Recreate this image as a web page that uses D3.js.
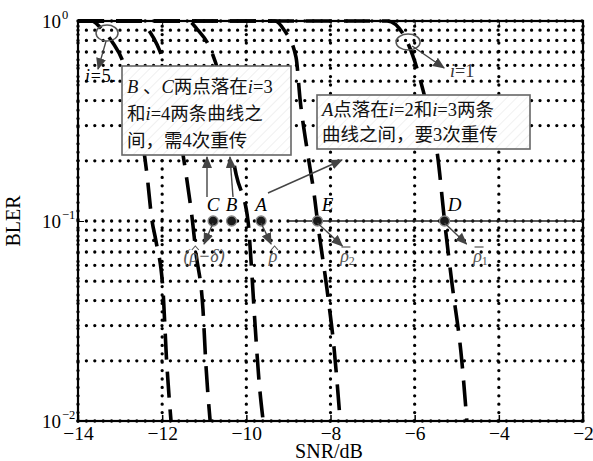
<!DOCTYPE html>
<html>
<head>
<meta charset="utf-8">
<script src="https://cdn.jsdelivr.net/npm/d3@7"></script>
<style>
  body { margin: 0; background: #fff; }
  svg, svg text { font-family: "Liberation Serif", "Noto Sans CJK SC", serif; }
</style>
</head>
<body>
<div id="chart"></div>
<script>
// data: [SNR(dB), BLER]
var curve1 = [[-14,1],[-6.65,1],[-6.23,0.83],[-5.8,0.45],[-5.44,0.2],[-5.29,0.1],[-5.12,0.05],[-4.88,0.02],[-4.76,0.01]];
var curve2 = [[-14,1],[-9.32,1],[-9.1,0.9],[-8.82,0.66],[-8.72,0.4],[-8.56,0.23],[-8.37,0.127],[-8.31,0.1],[-8.08,0.045],[-7.91,0.0225],[-7.77,0.01]];
var curve3 = [[-14,1],[-11.38,1],[-11.15,0.9],[-10.9,0.76],[-10.67,0.56],[-10.24,0.17],[-9.96,0.1],[-9.89,0.064],[-9.8,0.032],[-9.7,0.016],[-9.6,0.01]];
var curve4 = [[-14,1],[-12.52,1],[-12.29,0.88],[-12.12,0.76],[-11.98,0.64],[-11.43,0.17],[-11.28,0.1],[-11.2,0.07],[-11.03,0.036],[-10.96,0.019],[-10.86,0.01]];
var curve5 = [[-14,1],[-13.67,1],[-13.48,0.933],[-13.17,0.776],[-12.95,0.64],[-12.36,0.17],[-12.24,0.1],[-12.15,0.08],[-11.98,0.045],[-11.9,0.021],[-11.79,0.01]];

var pointNames = ["C", "B", "A", "E", "D"];
var pointSnr = [-10.79, -10.35, -9.65, -8.31, -5.29];
var pointBler = 0.1;
var refLine = [-9.0, -2];   // solid line at BLER = 0.1

var xTicks = [-14, -12, -10, -8, -6, -4, -2];
var yTicks = [1, 0.1, 0.01];
var yExp = ["0", "\u22121", "\u22122"];

var W = 593, H = 461;
var margin = {top: 21, right: 10, bottom: 40, left: 78};
var width = 583 - margin.left, height = 421 - margin.top;

var svg = d3.select("#chart").append("svg")
  .attr("width", W).attr("height", H);

var defs = svg.append("defs");
defs.append("marker").attr("id", "arr")
  .attr("viewBox", "0 0 12 10").attr("refX", 11).attr("refY", 5)
  .attr("markerWidth", 12).attr("markerHeight", 10)
  .attr("markerUnits", "userSpaceOnUse").attr("orient", "auto")
  .append("path").attr("d", "M0,0 L12,5 L0,10 Z").attr("fill", "#444");
var hatch = defs.append("pattern").attr("id", "hatch")
  .attr("width", 7).attr("height", 7).attr("patternUnits", "userSpaceOnUse")
  .attr("patternTransform", "rotate(45)");
hatch.append("rect").attr("width", 7).attr("height", 7).attr("fill", "#fff");
hatch.append("line").attr("x1", 0).attr("y1", 0).attr("x2", 0).attr("y2", 7)
  .attr("stroke", "#e2e2e2").attr("stroke-width", 1);

var g = svg.append("g").attr("transform", "translate(" + margin.left + "," + margin.top + ")");

var x = d3.scaleLinear().domain([-14, -2]).range([0, width]);
var y = d3.scaleLog().domain([0.01, 1]).range([height, 0]);

// grid: dotted, at every log tick and at major x ticks
var yGrid = [];
[0.01, 0.1].forEach(function(dec) { for (var k = 1; k <= 9; k++) yGrid.push(dec * k); });
yGrid.push(1);

g.selectAll(".hgrid").data(yGrid).enter().append("line")
  .attr("x1", 0).attr("x2", width)
  .attr("y1", function(d) { return y(d); }).attr("y2", function(d) { return y(d); })
  .attr("stroke", "#000").attr("stroke-width", 3.3)
  .attr("stroke-linecap", "round").attr("stroke-dasharray", "0,8.4");
g.selectAll(".vgrid").data(xTicks).enter().append("line")
  .attr("y1", height).attr("y2", 0)
  .attr("x1", function(d) { return x(d); }).attr("x2", function(d) { return x(d); })
  .attr("stroke", "#000").attr("stroke-width", 3.3)
  .attr("stroke-linecap", "round").attr("stroke-dasharray", "0,8.4");

// axes box
g.append("rect").attr("width", width).attr("height", height)
  .attr("fill", "none").attr("stroke", "#000").attr("stroke-width", 2.2);

var xAxis = g.append("g").attr("transform", "translate(0," + height + ")")
  .call(d3.axisBottom(x).tickValues(xTicks).tickSize(-6).tickPadding(5));
xAxis.attr("font-family", null);
xAxis.select(".domain").remove();
xAxis.selectAll("text").attr("font-size", 19.5).attr("fill", "#000")
  .style("font-family", "'Liberation Serif', serif");
xAxis.selectAll("line").attr("stroke-width", 1.5);
var xTop = g.append("g")
  .call(d3.axisTop(x).tickValues(xTicks).tickSize(-6).tickFormat(""));
xTop.select(".domain").remove();

var yAxis = g.append("g").call(d3.axisLeft(y).tickValues(yTicks).tickSize(-6).tickFormat(""));
yAxis.attr("font-family", null);
yAxis.select(".domain").remove();
yAxis.selectAll(".tick").append("text")
  .attr("x", -17).attr("y", 6).attr("text-anchor", "end")
  .attr("font-size", 19).attr("fill", "#000")
  .text("10");
yAxis.selectAll(".tick").append("text")
  .attr("x", -16).attr("y", -3).attr("text-anchor", "start")
  .attr("font-size", 12.5).attr("fill", "#000")
  .text(function(d, i) { return yExp[i]; });
var yRight = g.append("g").attr("transform", "translate(" + width + ",0)")
  .call(d3.axisRight(y).tickValues(yTicks).tickSize(-6).tickFormat(""));
yRight.select(".domain").remove();

// axis titles
svg.append("text").attr("x", 329).attr("y", 458).attr("text-anchor", "middle")
  .attr("font-size", 20).text("SNR/dB");
svg.append("text").attr("transform", "translate(20," + (margin.top + height / 2) + ") rotate(-90)")
  .attr("text-anchor", "middle").attr("font-size", 20).text("BLER");

// curves
var line = d3.line()
  .x(function(d) { return x(d[0]); })
  .y(function(d) { return y(d[1]); })
  .curve(d3.curveMonotoneX);
g.selectAll(".curve").data([curve1, curve2, curve3, curve4, curve5]).enter()
  .append("path")
  .attr("d", line)
  .attr("fill", "none").attr("stroke", "#000").attr("stroke-width", 3.6)
  .attr("stroke-dasharray", "26,12");

// solid reference line at BLER 0.1
g.append("line")
  .attr("x1", x(refLine[0])).attr("x2", x(refLine[1]))
  .attr("y1", y(pointBler)).attr("y2", y(pointBler))
  .attr("stroke", "#222").attr("stroke-width", 1.6);

// annotation helpers
function arrow(x1, y1, x2, y2) {
  g.append("line").attr("x1", x1).attr("y1", y1).attr("x2", x2).attr("y2", y2)
    .attr("stroke", "#444").attr("stroke-width", 1.4).attr("marker-end", "url(#arr)");
}

// ellipses on i=5 and i=1
g.append("ellipse").attr("cx", x(-13.31)).attr("cy", y(0.87)).attr("rx", 11).attr("ry", 8)
  .attr("fill", "none").attr("stroke", "#555").attr("stroke-width", 1.5);
arrow(x(-13.31) - 1, y(0.87) + 8, x(-13.31) - 9, y(0.87) + 36);
g.append("text").attr("x", x(-13.31) - 22).attr("y", y(0.87) + 49)
  .attr("font-size", 18).attr("letter-spacing", 0.8)
  .html('<tspan font-style="italic">i</tspan>=5.');

g.append("ellipse").attr("cx", x(-6.156)).attr("cy", y(0.785)).attr("rx", 12).attr("ry", 8)
  .attr("fill", "none").attr("stroke", "#555").attr("stroke-width", 1.5);
arrow(x(-6.156) + 4, y(0.785) + 4, x(-6.156) + 36, y(0.785) + 26);
g.append("text").attr("x", x(-6.156) + 42).attr("y", y(0.785) + 35)
  .attr("font-size", 18).attr("fill", "#333")
  .html('<tspan font-style="italic">i</tspan>=1');

// text boxes
function box(bx, by, bw, bh, lines, lx, ly0, dy) {
  var b = svg.append("g");
  b.append("rect").attr("x", bx).attr("y", by).attr("width", bw).attr("height", bh)
    .attr("fill", "url(#hatch)").attr("stroke", "#666").attr("stroke-width", 1.6);
  lines.forEach(function(l, i) {
    b.append("text").attr("x", lx).attr("y", ly0 + i * dy)
      .attr("font-size", 18.5).attr("fill", "#111").html(l);
  });
}
box(122, 66, 169, 89, [
  '<tspan font-style="italic">B</tspan> 、<tspan font-style="italic">C</tspan>两点落在<tspan font-style="italic">i</tspan>=3',
  '和<tspan font-style="italic">i</tspan>=4两条曲线之',
  '间，需4次重传'
], 127, 93, 27);
box(317, 95, 213, 54, [
  '<tspan font-style="italic">A</tspan>点落在<tspan font-style="italic">i</tspan>=2和<tspan font-style="italic">i</tspan>=3两条',
  '曲线之间，要3次重传'
], 322, 116, 25);

// arrows from labels to boxes (svg coords)
svg.append("line").attr("x1", 207).attr("y1", 197).attr("x2", 207).attr("y2", 157)
  .attr("stroke", "#444").attr("stroke-width", 1.4).attr("marker-end", "url(#arr)");
svg.append("line").attr("x1", 233).attr("y1", 197).attr("x2", 230).attr("y2", 157)
  .attr("stroke", "#444").attr("stroke-width", 1.4).attr("marker-end", "url(#arr)");
svg.append("line").attr("x1", 268).attr("y1", 193).attr("x2", 342).attr("y2", 160)
  .attr("stroke", "#444").attr("stroke-width", 1.4).attr("marker-end", "url(#arr)");

// points
var pts = pointNames.map(function(n, i) { return {name: n, snr: pointSnr[i]}; });
g.selectAll(".pt").data(pts).enter().append("circle")
  .attr("cx", function(d) { return x(d.snr); }).attr("cy", y(pointBler))
  .attr("r", 5).attr("fill", "#1a1a1a").attr("stroke", "#888").attr("stroke-width", 1.3);
g.selectAll(".ptl").data(pts).enter().append("text")
  .attr("x", function(d) { return x(d.snr) + (d.name === "E" || d.name === "D" ? 10 : 0); })
  .attr("y", y(pointBler) - 10)
  .attr("text-anchor", "middle").attr("font-size", 19).attr("font-style", "italic")
  .text(function(d) { return d.name; });

// arrows from points to threshold labels; accent drawn over the rho glyph
var ptArrows = [
  {snr: pointSnr[0], dx: -9, dy: 23, lx: -9, txt: '(ρ−δ)', idx: 1, acc: "hat"},
  {snr: pointSnr[2], dx: 10, dy: 23, lx: 12, txt: 'ρ', idx: 0, acc: "hat"},
  {snr: pointSnr[3], dx: 25, dy: 25, lx: 30, txt: 'ρ<tspan font-size="12" font-style="normal" dy="3">2</tspan>', idx: 0, acc: "bar"},
  {snr: pointSnr[4], dx: 22, dy: 23, lx: 36, txt: 'ρ<tspan font-size="12" font-style="normal" dy="3">1</tspan>', idx: 0, acc: "bar"}
];
ptArrows.forEach(function(a) {
  var px = x(a.snr), py = y(pointBler);
  arrow(px, py + 2, px + a.dx, py + a.dy);
  var t = g.append("text").attr("x", px + a.lx).attr("y", py + 41)
    .attr("text-anchor", "middle").attr("font-size", 18).attr("font-style", "italic")
    .attr("fill", "#555").html(a.txt);
  var ext = t.node().getExtentOfChar(a.idx);
  var cx = ext.x + ext.width / 2 + 1.5, top = py + 41 - 13;
  if (a.acc === "hat") {
    g.append("path").attr("d", "M" + (cx - 3.5) + "," + (top + 1) + " L" + cx + "," + (top - 3) + " L" + (cx + 3.5) + "," + (top + 1))
      .attr("fill", "none").attr("stroke", "#555").attr("stroke-width", 1.1);
  } else {
    g.append("line").attr("x1", cx - 4.5).attr("x2", cx + 4.5).attr("y1", top - 2).attr("y2", top - 2)
      .attr("stroke", "#555").attr("stroke-width", 1.2);
  }
});
</script>
</body>
</html>
